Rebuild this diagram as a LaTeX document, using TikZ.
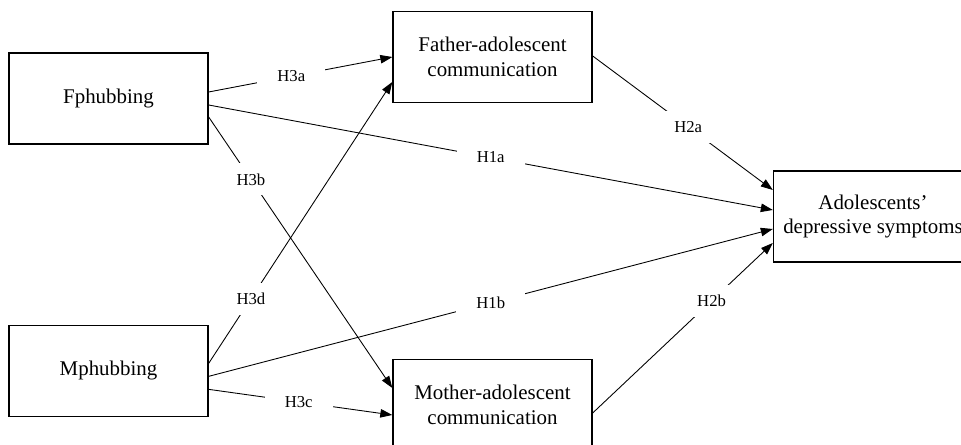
\documentclass[tikz,border=0pt]{standalone}
\usepackage{fontspec}
\setmainfont{Liberation Serif}
\usetikzlibrary{positioning,calc,arrows.meta}

\begin{document}
\begin{tikzpicture}[x=0.02cm, y=-0.02cm,
  box/.style={draw, line width=0.8pt, minimum width=3.98cm, minimum height=1.82cm,
    align=center, font=\fontsize{11.9}{14.2}\selectfont},
  link/.style={-{Triangle[length=2.4mm,width=1.7mm]}, line width=0.5pt},
  hyp/.style={fill=white, inner xsep=0.4cm, inner ysep=0.2cm,
    font=\fontsize{9.5}{11}\selectfont}]
  \useasboundingbox (0,0) rectangle (961,445);
  \clip (0,0) rectangle (961,445);

  % variables
  \node[box] (fph) at (108.5,98.5) {Fphubbing};
  \node[box] (mph) [below=3.6cm of fph] {Mphubbing};
  \node[box] (fat) at (492.5,57) {Father-adolescent\\communication};
  \node[box] (mot) at (492.5,405) {Mother-adolescent\\communication};
  \node[box] (ado) at (873,216.5) {Adolescents’\\depressive symptoms};

  % paths
  \draw[link] ($(fph.east)+(0,-6.5)$) -- node[hyp, pos=0.45] {H3a} (fat.west);
  \draw[link] ($(fph.east)+(0,6.5)$) -- node[hyp, pos=0.5] {H1a} ($(ado.west)+(0,-6.5)$);
  \draw[link] ($(mph.east)+(0,-7.5)$) -- node[hyp, pos=0.23] {H3d} ($(fat.west)+(0,25)$);
  \draw[link] ($(fph.east)+(0,18.5)$) -- node[hyp, pos=0.23] {H3b} ($(mot.west)+(0,-17)$);
  \draw[link] ($(mph.east)+(0,5.5)$) -- node[hyp, pos=0.5] {H1b} ($(ado.west)+(0,12.5)$);
  \draw[link] ($(mph.east)+(0,18.5)$) -- node[hyp, pos=0.49] {H3c} ($(mot.west)+(0,10)$);
  \draw[link] ($(fat.east)+(0,-1)$) -- node[hyp, pos=0.53] {H2a} ($(ado.west)+(0,-26.5)$);
  \draw[link] ($(mot.east)+(0,8)$) -- node[hyp, pos=0.66] {H2b} ($(ado.west)+(0,26.5)$);
\end{tikzpicture}
\end{document}
